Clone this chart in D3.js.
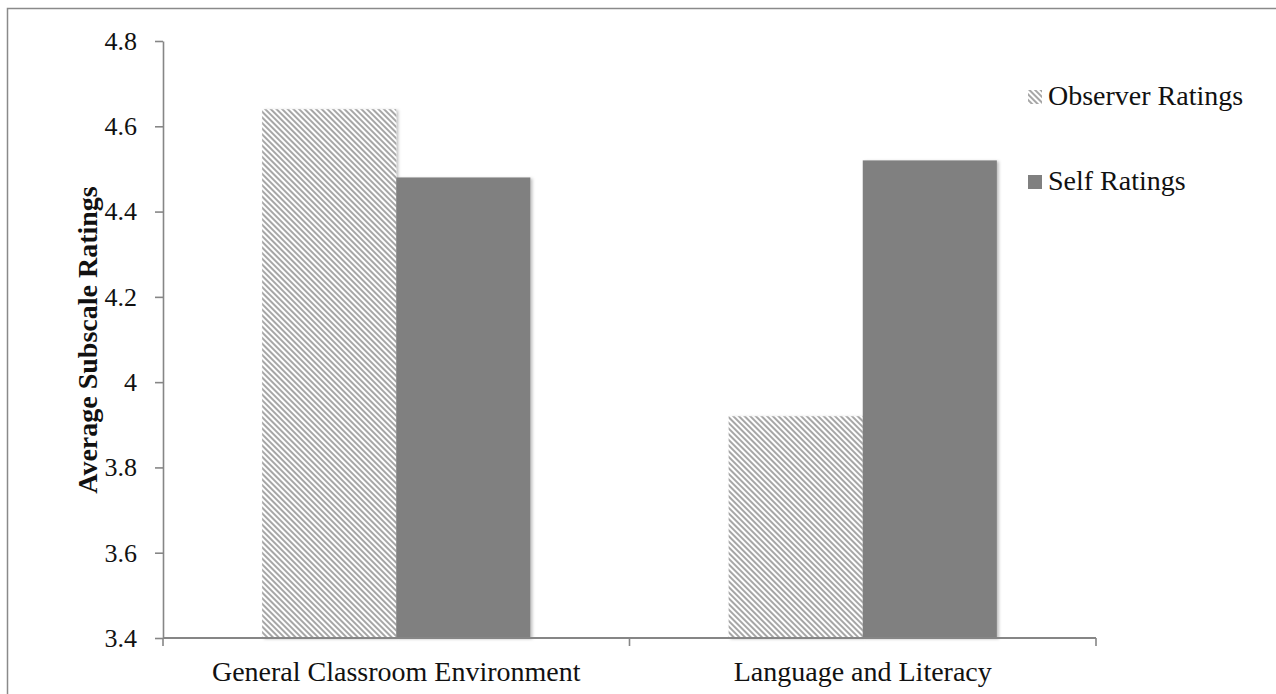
<!DOCTYPE html>
<html>
<head>
<meta charset="utf-8">
<script src="https://cdn.jsdelivr.net/npm/d3@7"></script>
<style>
  body { margin: 0; background: #fff; }
  svg text { font-family: "Liberation Serif", "DejaVu Serif", serif; fill: #111; }
</style>
</head>
<body>
<svg id="chart"></svg>
<script>
'use strict'

const categories = ['General Classroom Environment', 'Language and Literacy'];
const seriesNames = ['Observer Ratings', 'Self Ratings'];
const observerValues = [4.64, 3.92];
const selfValues = [4.48, 4.52];
const yTicks = [3.4, 3.6, 3.8, 4, 4.2, 4.4, 4.6, 4.8];

const width = 1276,
    height = 694;

const plot = { left: 163, right: 1096, top: 41, bottom: 638 };
const axisColor = '#868686';
const selfColor = '#808080';

let svg = d3.select('#chart')
    .attr('width', width)
    .attr('height', height);

let defs = svg.append('defs');

// light downward diagonal hatch for the observer series
let hatch = defs.append('pattern')
    .attr('id', 'hatch')
    .attr('patternUnits', 'userSpaceOnUse')
    .attr('width', 4)
    .attr('height', 4)
    .attr('patternTransform', 'rotate(-45)');
hatch.append('rect')
    .attr('width', 4).attr('height', 4)
    .attr('fill', '#fff');
hatch.append('line')
    .attr('x1', 1).attr('y1', 0)
    .attr('x2', 1).attr('y2', 4)
    .attr('stroke', '#9c9c9c')
    .attr('stroke-width', 1.8);

defs.append('filter')
    .attr('id', 'shadow')
    .attr('x', '-10%').attr('y', '-10%')
    .attr('width', '130%').attr('height', '130%')
    .append('feDropShadow')
    .attr('dx', 2).attr('dy', 1)
    .attr('stdDeviation', 1.5)
    .attr('flood-color', '#000')
    .attr('flood-opacity', 0.25);

// outer frame
svg.append('rect')
    .attr('x', 7.5).attr('y', 8.5)
    .attr('width', width + 10).attr('height', height + 10)
    .attr('fill', 'none')
    .attr('stroke', '#8a8a8a')
    .attr('stroke-width', 1.5);

let x0 = d3.scaleBand()
    .domain(categories)
    .range([plot.left, plot.right])
    .paddingInner(0.425)
    .paddingOuter(0.2125);

let x1 = d3.scaleBand()
    .domain(seriesNames)
    .range([0, x0.bandwidth()]);

let y = d3.scaleLinear()
    .domain([3.4, 4.8])
    .range([plot.bottom, plot.top]);

let rows = categories.map((c, i) => ({
    category: c,
    values: [
        { series: seriesNames[0], value: observerValues[i] },
        { series: seriesNames[1], value: selfValues[i] }
    ]
}));

let fillFor = s => s === seriesNames[0] ? 'url(#hatch)' : selfColor;

let groups = svg.append('g')
    .selectAll('g')
    .data(rows)
    .join('g')
    .attr('transform', d => 'translate(' + x0(d.category) + ',0)');

groups.selectAll('rect')
    .data(d => d.values)
    .join('rect')
    .attr('x', d => x1(d.series))
    .attr('y', d => y(d.value))
    .attr('width', x1.bandwidth())
    .attr('height', d => y(3.4) - y(d.value))
    .attr('fill', d => fillFor(d.series))
    .attr('filter', 'url(#shadow)');

// y axis
let yAxis = svg.append('g')
    .attr('transform', 'translate(' + plot.left + ',0)')
    .call(d3.axisLeft(y)
        .tickValues(yTicks)
        .tickFormat(d => String(+d.toFixed(1)))
        .tickSize(8)
        .tickSizeOuter(0)
        .tickPadding(18));

yAxis.attr('font-family', null).attr('font-size', null);
yAxis.selectAll('path, line')
    .attr('stroke', axisColor)
    .attr('stroke-width', 1.6);
yAxis.selectAll('text')
    .style('font-size', '26px')
    .attr('fill', '#111');

// x axis: line with ticks at band edges, labels at band centres
let xAxis = svg.append('g');

xAxis.append('line')
    .attr('x1', plot.left).attr('x2', plot.right)
    .attr('y1', y(3.4)).attr('y2', y(3.4))
    .attr('stroke', axisColor)
    .attr('stroke-width', 1.8);

let edges = d3.range(categories.length + 1).map(i => plot.left + i * x0.step());

xAxis.selectAll('.edge')
    .data(edges)
    .join('line')
    .attr('class', 'edge')
    .attr('x1', d => d).attr('x2', d => d)
    .attr('y1', y(3.4)).attr('y2', y(3.4) + 8)
    .attr('stroke', axisColor)
    .attr('stroke-width', 1.6);

xAxis.selectAll('.cat')
    .data(categories)
    .join('text')
    .attr('class', 'cat')
    .attr('x', d => x0(d) + x0.bandwidth() / 2)
    .attr('y', 681)
    .attr('text-anchor', 'middle')
    .style('font-size', '28px')
    .text(d => d);

// y axis title
svg.append('text')
    .attr('transform', 'translate(97,340) rotate(-90)')
    .attr('text-anchor', 'middle')
    .style('font-size', '28px')
    .attr('font-weight', 'bold')
    .text('Average Subscale Ratings');

// legend
let legend = svg.append('g')
    .selectAll('g')
    .data(seriesNames)
    .join('g')
    .attr('transform', (d, i) => 'translate(1028,' + (90 + i * 85) + ')');

legend.append('rect')
    .attr('width', 14)
    .attr('height', 14)
    .attr('fill', d => fillFor(d));

legend.append('text')
    .attr('x', 20)
    .attr('y', 15)
    .style('font-size', '28px')
    .text(d => d);
</script>
</body>
</html>
